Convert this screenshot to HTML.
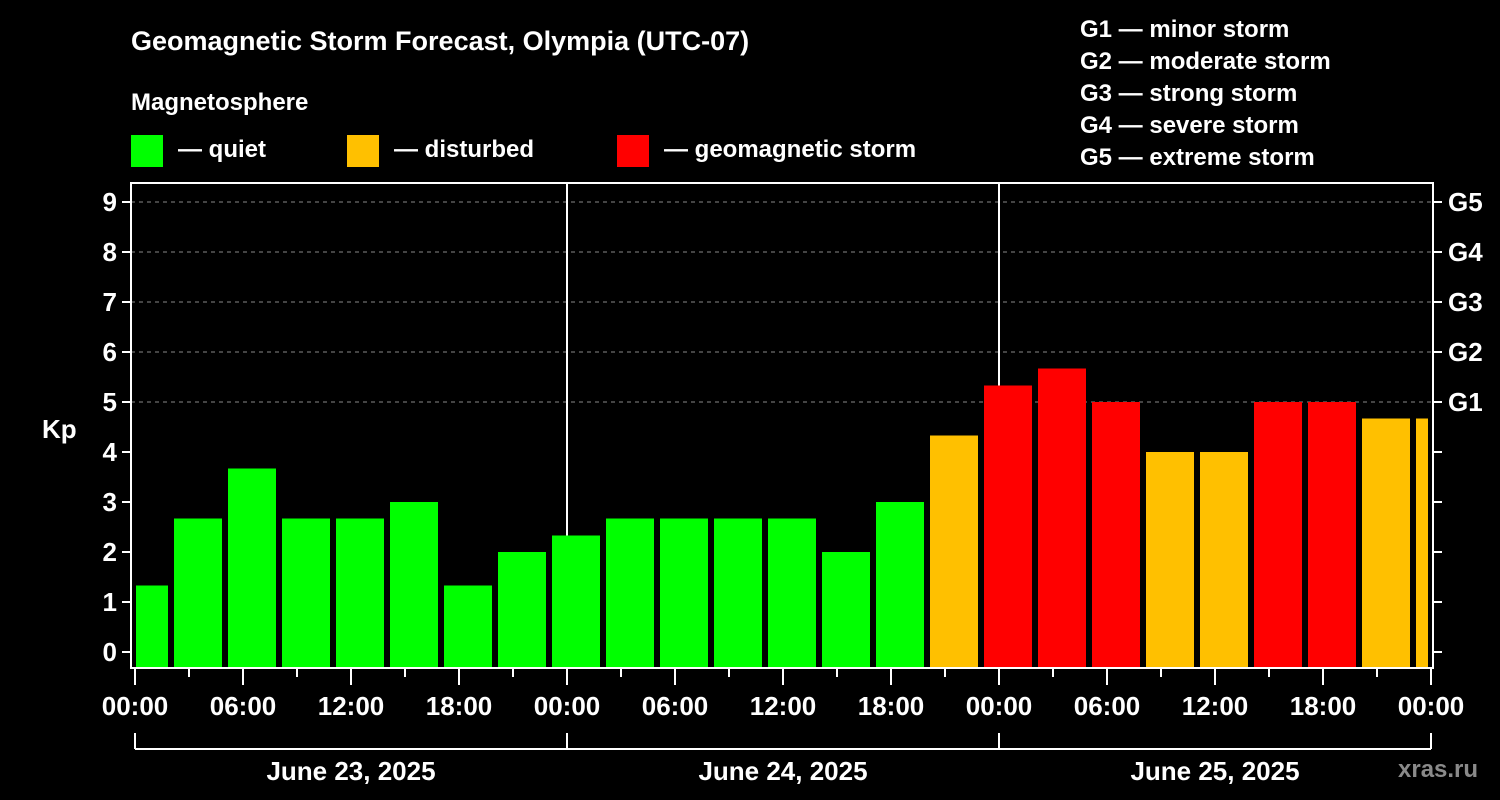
<!DOCTYPE html>
<html><head><meta charset="utf-8"><style>
body{margin:0;background:#000;width:1500px;height:800px;overflow:hidden}
svg{display:block}
text{font-family:"Liberation Sans",sans-serif;font-weight:bold;fill:#fff}
</style></head><body>
<svg id="chart" width="1500" height="800">
<text x="131" y="50" font-size="27">Geomagnetic Storm Forecast, Olympia (UTC-07)</text>
<text x="131" y="110" font-size="24">Magnetosphere</text>
<g><rect x="131" y="135" width="32" height="32" fill="#00ff00"/><text x="178" y="157" font-size="24">— quiet</text></g>
<g><rect x="347" y="135" width="32" height="32" fill="#ffc000"/><text x="394" y="157" font-size="24">— disturbed</text></g>
<g><rect x="617" y="135" width="32" height="32" fill="#ff0000"/><text x="664" y="157" font-size="24">— geomagnetic storm</text></g>
<g font-size="24">
<text x="1080" y="37">G1 — minor storm</text><text x="1080" y="69">G2 — moderate storm</text><text x="1080" y="101">G3 — strong storm</text><text x="1080" y="133">G4 — severe storm</text><text x="1080" y="165">G5 — extreme storm</text></g>
<text x="42" y="438" font-size="26">Kp</text>
<text x="1398" y="777" font-size="24" fill="#888" style="fill:#8a8a8a">xras.ru</text>
<g id="plot"></g>
</svg>
<script>
const kpValues=[1.33,2.67,3.67,2.67,2.67,3,1.33,2,2.33,2.67,2.67,2.67,2.67,2,3,4.33,5.33,5.67,5,4,4,5,5,4.67,4.67];
const startHour=-1;
const yTicks=[0,1,2,3,4,5,6,7,8,9];
const gLabels=["G1","G2","G3","G4","G5"];
const xTickLabels=["00:00","06:00","12:00","18:00","00:00","06:00","12:00","18:00","00:00","06:00","12:00","18:00","00:00"];
const dayLabels=["June 23, 2025","June 24, 2025","June 25, 2025"];
const NS="http://www.w3.org/2000/svg";
const L=131,R=1433,T=183,B=668,X0=135;
const x=h=>X0+h*18;
const y=v=>652-v*50;
const p=document.getElementById('plot');
function mk(t,a,par){const e=document.createElementNS(NS,t);for(const k in a)e.setAttribute(k,a[k]);(par||p).appendChild(e);return e;}
// grid
for(let v=5;v<=9;v++){const e=mk('line',{x1:L,x2:R,y1:y(v),y2:y(v),stroke:'#888','stroke-dasharray':'4,4','stroke-width':1});

}
// day separators
for(let d=1;d<3;d++){const e=mk('line',{x1:x(24*d),x2:x(24*d),y1:T,y2:B,stroke:'#fff','stroke-width':2});

}
// bars
kpValues.forEach((v,i)=>{
 let x1=x(startHour+3*i)+3,x2=x(startHour+3*i+3)-3;
 x1=Math.max(x1,L+5);x2=Math.min(x2,R-5);
 const c=v>=5?'#ff0000':(v>=4?'#ffc000':'#00ff00');
 const e=mk('rect',{x:x1,y:y(v),width:x2-x1,height:B-y(v),fill:c});
 
 
});
// frame
const f=mk('rect',{x:L,y:T,width:R-L,height:B-T,fill:'none',stroke:'#fff','stroke-width':2});


// y ticks
yTicks.forEach(v=>{
 mk('line',{x1:L-9,x2:L,y1:y(v),y2:y(v),stroke:'#fff','stroke-width':2});
 mk('line',{x1:R,x2:R+9,y1:y(v),y2:y(v),stroke:'#fff','stroke-width':2});
 const t=mk('text',{x:L-14,y:y(v)+9,'text-anchor':'end','font-size':26});t.textContent=v;
 
 
});
gLabels.forEach((g,i)=>{const t=mk('text',{x:1448,y:y(5+i)+9,'font-size':26});t.textContent=g;
 
 });
// x ticks
for(let h=0;h<=72;h+=3){const maj=h%6===0;mk('line',{x1:x(h),x2:x(h),y1:B,y2:B+(maj?17:9),stroke:'#fff','stroke-width':2});}
xTickLabels.forEach((s,i)=>{const t=mk('text',{x:x(i*6),y:715,'text-anchor':'middle','font-size':26});t.textContent=s;
 
 });
mk('line',{x1:x(0),x2:x(72),y1:749,y2:749,stroke:'#fff','stroke-width':2});
for(let d=0;d<=3;d++)mk('line',{x1:x(24*d),x2:x(24*d),y1:733,y2:749,stroke:'#fff','stroke-width':2});
dayLabels.forEach((s,i)=>{const t=mk('text',{x:x(24*i+12),y:780,'text-anchor':'middle','font-size':26});t.textContent=s;
 
 });
</script>
</body></html>
